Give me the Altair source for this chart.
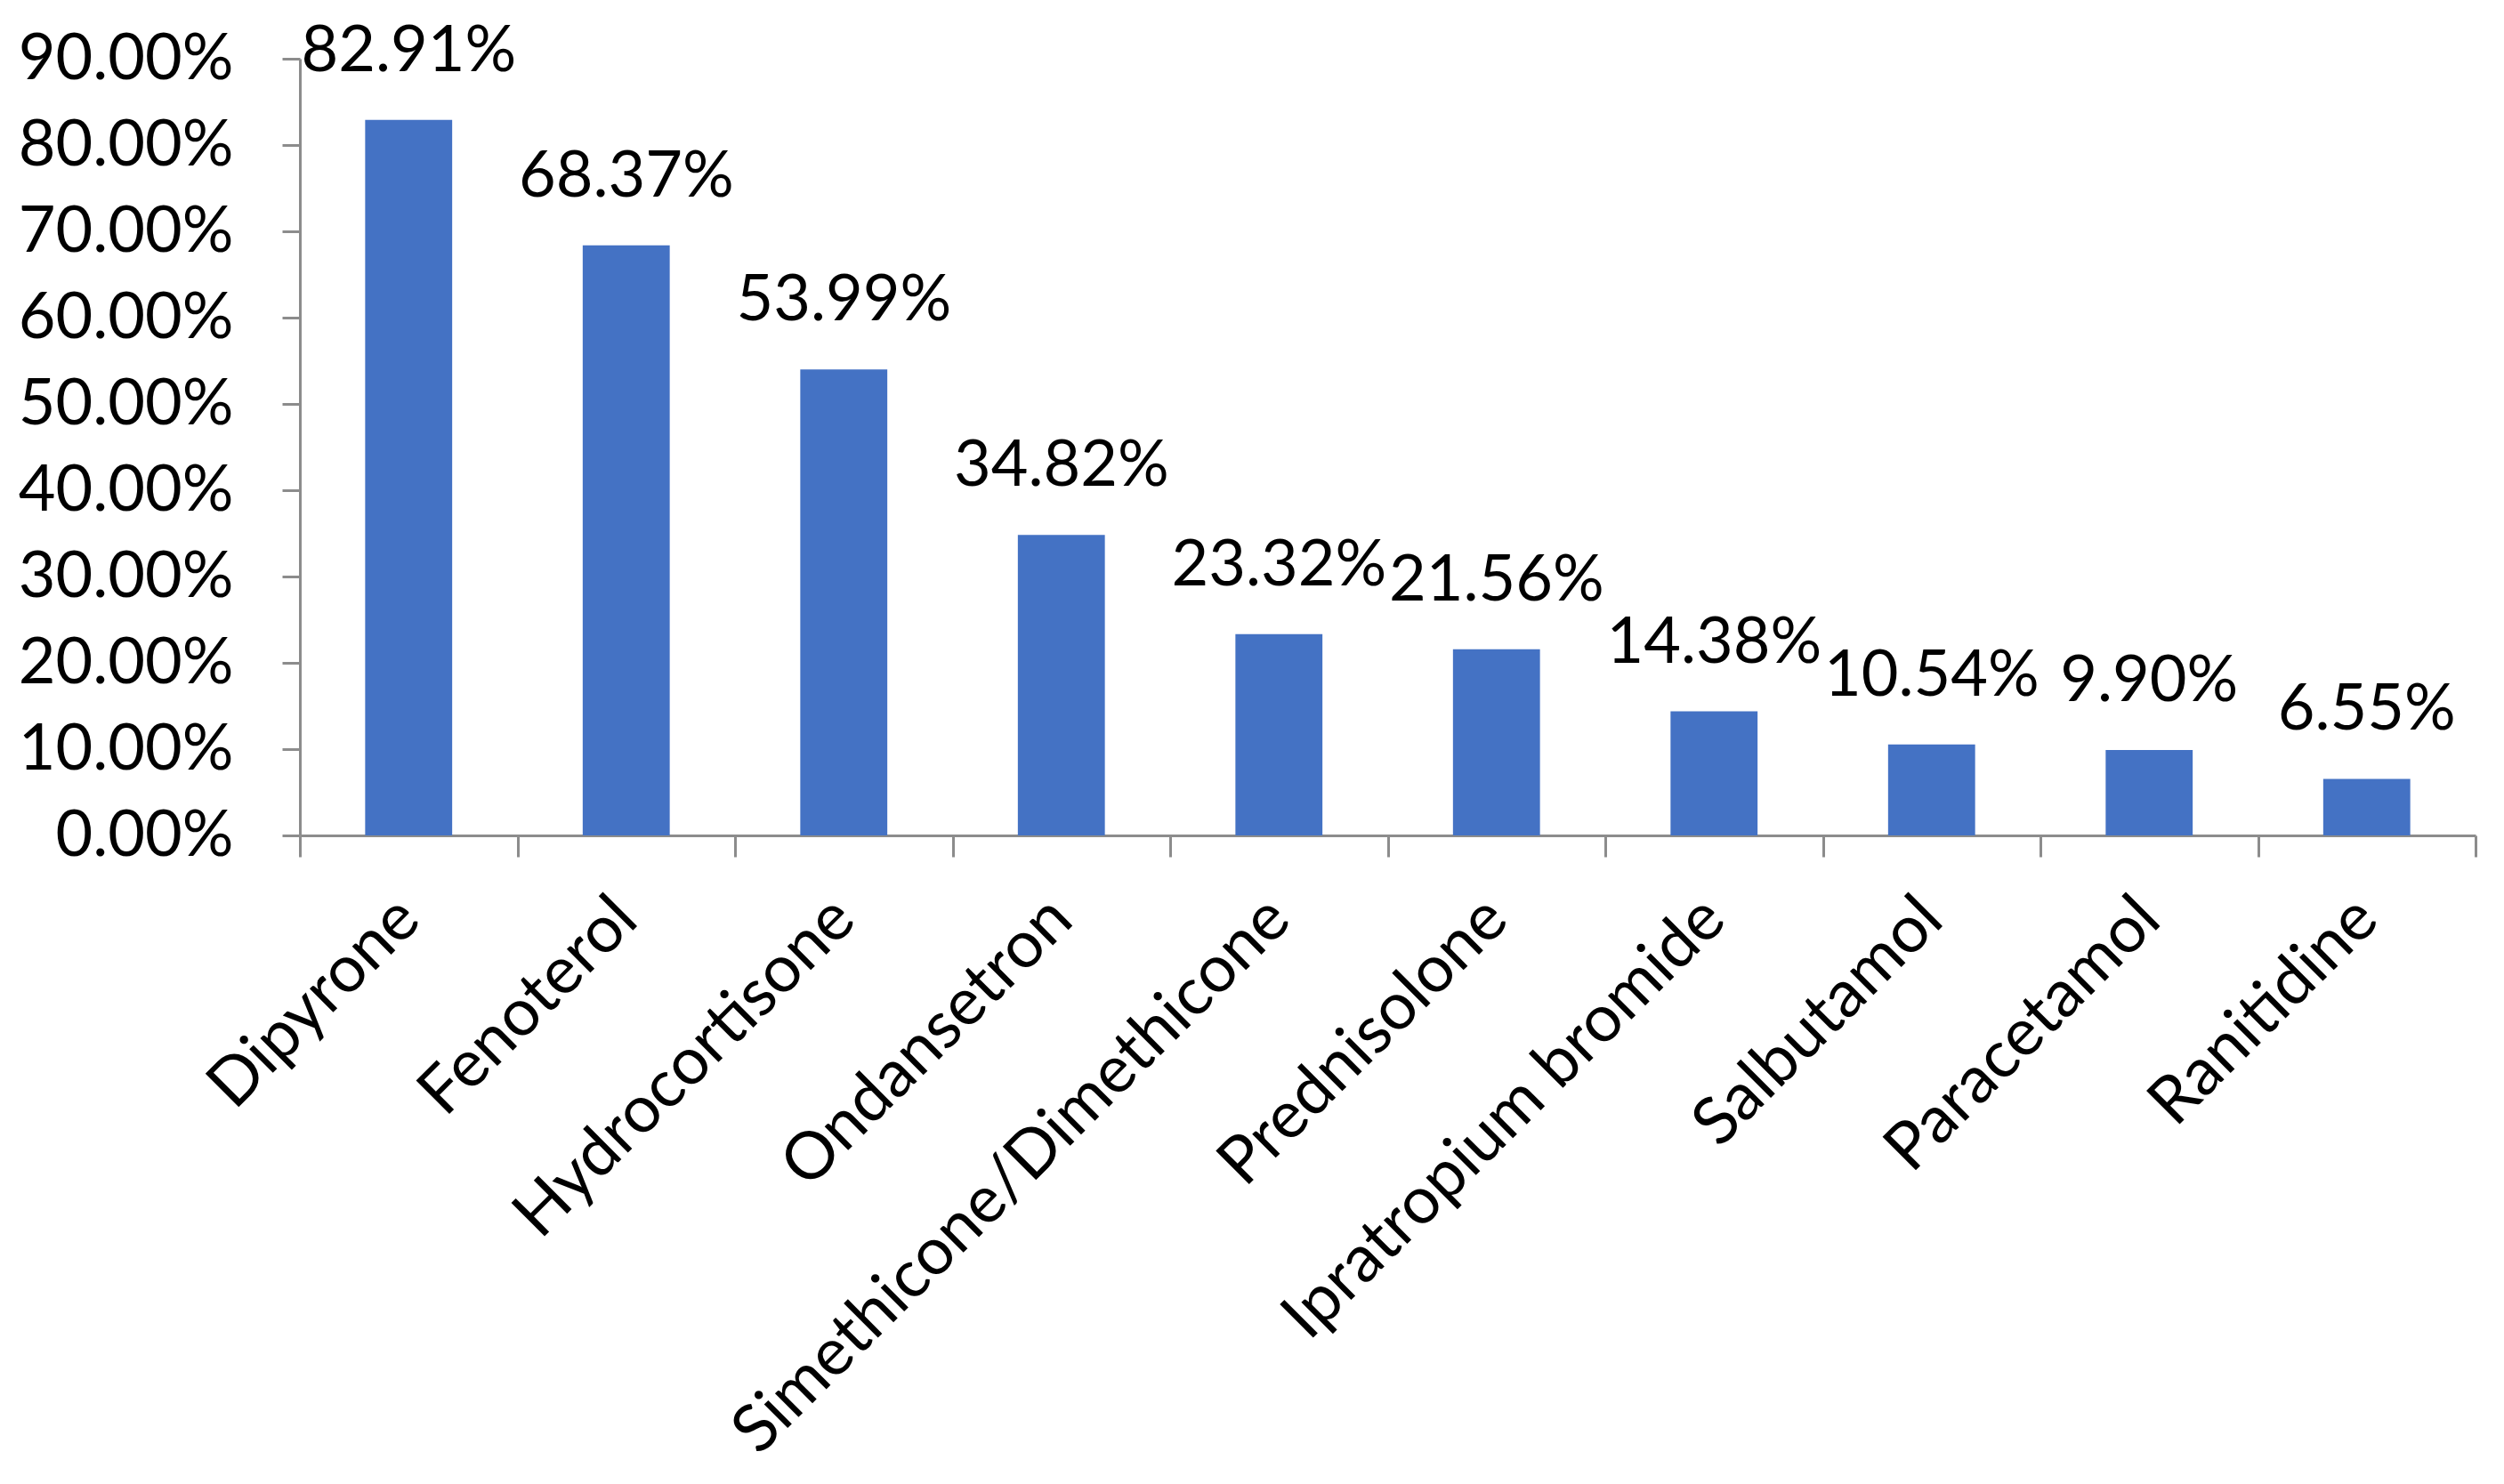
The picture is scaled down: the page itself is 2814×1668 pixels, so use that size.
import altair as alt
import pandas as pd

drugs = ["Dipyrone", "Fenoterol", "Hydrocortisone", "Ondansetron",
         "Simethicone/Dimethicone", "Prednisolone", "Ipratropium bromide",
         "Salbutamol", "Paracetamol", "Ranitidine"]
shares = [0.8291, 0.6837, 0.5399, 0.3482, 0.2332, 0.2156, 0.1438, 0.1054, 0.0990, 0.0655]
y_ticks = [0.0, 0.1, 0.2, 0.3, 0.4, 0.5, 0.6, 0.7, 0.8, 0.9]

df = pd.DataFrame({"drug": drugs, "share": shares})

FONT = "Lato"
FS = 72
AX = "#8c8c8c"

x = alt.X(
    "drug:N", sort=drugs,
    scale=alt.Scale(paddingInner=0, paddingOuter=0),
    axis=alt.Axis(
        title=None, labelAngle=315, labelAlign="right", labelBaseline="middle",
        tickBand="extent", tickSize=24, tickWidth=3, tickColor=AX,
        domainColor=AX, domainWidth=3, labelPadding=58,
        labelFont=FONT, labelFontSize=74, labelColor="#000000", labelLimit=2000,
    ),
)
y = alt.Y(
    "share:Q",
    scale=alt.Scale(domain=[0, 0.9], nice=False),
    axis=alt.Axis(
        title=None, format=".2%", values=y_ticks, grid=False,
        tickSize=20, tickWidth=3, tickColor=AX, domainColor=AX, domainWidth=3,
        labelPadding=55, labelFont=FONT, labelFontSize=FS, labelColor="#000000",
        labelLimit=2000,
    ),
)

bars = alt.Chart(df).mark_bar(color="#4472C4", width=alt.RelativeBandSize(0.4)).encode(x=x, y=y)
labels = alt.Chart(df).mark_text(
    dy=-55, baseline="alphabetic", align="center", font=FONT, fontSize=FS, color="#000000"
).encode(x=x, y=y, text=alt.Text("share:Q", format=".2%"))

chart = (bars + labels).properties(
    width=2445, height=873,
    autosize=alt.AutoSizeParams(type="none"),
    padding={"left": 329, "top": 58, "right": 20, "bottom": 725},
).configure_view(stroke=None)

chart.save("out.html", embed_options={"renderer": "svg", "actions": False})
